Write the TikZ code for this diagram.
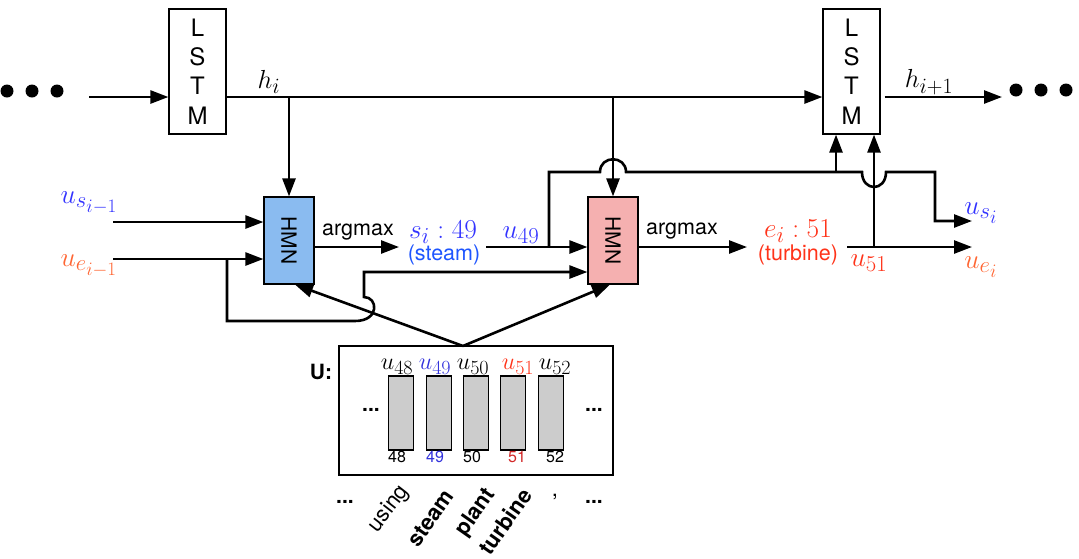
\documentclass[tikz,border=0pt]{standalone}
\usepackage[no-math]{fontspec}
\newfontfamily\hv{TeX Gyre Heros}
\usetikzlibrary{arrows.meta}
\definecolor{sblue}{RGB}{51,51,255}
\definecolor{stblue}{RGB}{30,85,255}
\definecolor{eorange}{RGB}{255,102,51}
\definecolor{ered}{RGB}{255,51,25}
\definecolor{hmnblue}{RGB}{138,187,240}
\definecolor{hmnpink}{RGB}{245,176,176}
\definecolor{bargray}{RGB}{204,204,204}
\definecolor{nblue}{RGB}{50,50,220}
\definecolor{nred}{RGB}{210,40,40}
\begin{document}
\begin{tikzpicture}[x=1pt,y=-1pt,
  arr/.style={line width=2.6pt,-{Triangle[length=18pt,width=13pt]}},
  boxst/.style={draw,line width=1.2pt,inner sep=0pt},
  lstmbox/.style={boxst,minimum width=57pt,minimum height=125pt,align=center,font=\hv\fontsize{24}{29.3}\selectfont},
  hmnbox/.style={boxst,minimum width=50pt,minimum height=87pt},
  hmntext/.style={rotate=-90,inner sep=0pt,font=\hv\fontsize{21}{25}\selectfont},
  dotst/.style={circle,fill,minimum size=13pt,inner sep=0pt},
  mathbig/.style={inner sep=0pt,scale=1.1,font=\fontsize{24.88}{30}\selectfont},
  mathmid/.style={inner sep=0pt,scale=1.05,font=\fontsize{24.88}{30}\selectfont},
  mathsm/.style={inner sep=0pt,scale=0.97,font=\fontsize{24.88}{30}\selectfont},
  sflbl/.style={inner sep=0pt,font=\hv\fontsize{21.5}{25}\selectfont},
  numlbl/.style={inner sep=0pt,font=\hv\fontsize{16}{19}\selectfont},
  wordlbl/.style={inner sep=0pt,font=\hv\fontsize{22}{26}\selectfont},
  bwordlbl/.style={inner sep=0pt,font=\hv\bfseries\fontsize{22}{26}\selectfont},
  bdots/.style={inner sep=0pt,font=\hv\bfseries\fontsize{21}{24}\selectfont},
  barst/.style={draw,line width=1.1pt,fill=bargray,minimum width=25.5pt,minimum height=74pt,inner sep=0pt}]
\useasboundingbox (0,0) rectangle (1079,558);

% left and right dots
\node[dotst] (dl1) at (7,91) {};
\node[dotst] (dl2) at (32,91) {};
\node[dotst] (dl3) at (57,91) {};
\node[dotst] (dr1) at (1016,90) {};
\node[dotst] (dr2) at (1041,90) {};
\node[dotst] (dr3) at (1066,90) {};

% LSTM boxes
\node[lstmbox] (lstm1) at (197.5,71.5) {L\\S\\T\\M};
\node[lstmbox] (lstm2) at (851.5,71.5) {L\\S\\T\\M};

% HMN boxes
\node[hmnbox,fill=hmnblue] (hmn1) at (289,240.5) {};
\node[hmntext] (hmn1t) at (hmn1.center) {HMN};
\node[hmnbox,fill=hmnpink] (hmn2) at (613,240.5) {};
\node[hmntext] (hmn2t) at (hmn2.center) {HMN};

% coordinates
\coordinate (inL) at (89,97);
\coordinate (hy) at (0,97);
\coordinate (outR) at (1002,97);
\coordinate (usm) at (113,222);
\coordinate (uem) at (113,259);
\coordinate (ay) at (0,247);
\coordinate (ly) at (0,272);
\coordinate (siL) at (399,247);
\coordinate (u49s) at (486,247);
\coordinate (lb) at (227,259);
\coordinate (b49) at (549,247);
\coordinate (usi) at (972,221);
\coordinate (j1) at (836,172);
\coordinate (eiL) at (747,247);
\coordinate (u51s) at (847,247);
\coordinate (ueo) at (972,247);
\coordinate (j2) at (874,247);
\coordinate (apex) at (463,346);

% LSTM chain
\draw[arr] (inL) -- (inL -| lstm1.west);
\draw[arr] (lstm1.east |- hy) -- (lstm2.west |- hy);
\draw[arr] ([xshift=4pt]lstm2.east |- hy) -- (outR);
\node[mathmid] (hi) at (269,82) {$h_i$};
\node[mathmid] (hip) at (929,82) {$h_{i+1}$};

% h_i drops
\draw[arr] (hmn1.north |- hy) -- (hmn1.north);
\draw[arr] (hmn2.north |- hy) -- (hmn2.north);

% inputs of HMN1
\node[mathbig,text=sblue] (lusm) at (89,203) {$u_{s_{i-1}}$};
\node[mathbig,text=eorange] (luem) at (89,266) {$u_{e_{i-1}}$};
\draw[arr] (usm) -- (usm -| hmn1.west);
\draw[arr] (uem) -- (uem -| hmn1.west);

% HMN1 output
\draw[arr] (hmn1.east |- ay) -- (siL);
\node[sflbl] (am1) at (358,232) {argmax};
\node[mathbig,text=sblue] (si) at (443,232) {$s_i:49$};
\node[sflbl,text=stblue] (steam) at (444,255) {(steam)};

% u49 into HMN2
\draw[arr] (u49s) -- (u49s -| hmn2.west);
\node[mathbig,text=sblue] (u49) at (521,235) {$u_{49}$};

% loop from u_{e_{i-1}} to HMN2 (jumps the diagonal)
\draw[arr] (lb) -- (227,321) -- (355,321) .. controls (380,321) and (378,297) .. (364,297) -- (364,272) -- (hmn2.west |- ly);

% upper route from u49 to u_{s_i}
\draw[arr] (b49) -- (549,172) -- (600,172) .. controls (600,155) and (626,155) .. (626,172) -- (862,172) .. controls (862,192) and (886,192) .. (886,172) -- (935,172) -- (935,221) -- (usi);
\draw[arr] (j1) -- (j1 |- lstm2.south);

% HMN2 output
\draw[arr] (hmn2.east |- ay) -- (eiL);
\node[sflbl] (am2) at (682,231) {argmax};
\node[mathbig,text=ered] (ei) at (798,231) {$e_i:51$};
\node[sflbl,text=ered] (turb) at (798,255) {(turbine)};
\draw[arr] (u51s) -- (ueo);
\draw[arr] (j2) -- (j2 |- lstm2.south);
\node[mathbig,text=ered] (u51) at (869,263) {$u_{51}$};
\node[mathbig,text=sblue] (lusi) at (981,213) {$u_{s_i}$};
\node[mathbig,text=eorange] (luei) at (981,267) {$u_{e_i}$};

% U box
\node[boxst,minimum width=274pt,minimum height=129pt] (ubox) at (476,410.5) {};
\node[inner sep=0pt,font=\hv\bfseries\fontsize{21}{25}\selectfont] (ulab) at (321,372) {U:};
\node[barst] (b48) at (401,413) {};
\node[barst] (b49b) at (439,413) {};
\node[barst] (b50) at (476,413) {};
\node[barst] (b51) at (513,413) {};
\node[barst] (b52) at (551,413) {};
\node[mathsm] (l48) at (397,367) {$u_{48}$};
\node[mathsm,text=nblue] (l49) at (435,367) {$u_{49}$};
\node[mathsm] (l50) at (473,367) {$u_{50}$};
\node[mathsm,text=ered] (l51) at (518,367) {$u_{51}$};
\node[mathsm] (l52) at (555,367) {$u_{52}$};
\node[numlbl] (n48) at (397,457) {48};
\node[numlbl,text=nblue] (n49) at (435,457) {49};
\node[numlbl] (n50) at (472,457) {50};
\node[numlbl,text=nred] (n51) at (517,457) {51};
\node[numlbl] (n52) at (555,457) {52};
\node[bdots] (idl) at (371,410) {...};
\node[bdots] (idr) at (594,410) {...};

% diagonals from U to the HMNs
\draw[arr] (apex) -- ([xshift=6pt]hmn1.south);
\draw[arr] (apex) -- ([xshift=-3pt]hmn2.south);

% words
\node[bdots] (wdl) at (345,502) {...};
\node[wordlbl,rotate=52] (w1) at (389,509) {using};
\node[bwordlbl,rotate=55] (w2) at (431,518) {steam};
\node[bwordlbl,rotate=55] (w3) at (476,513) {plant};
\node[bwordlbl,rotate=55] (w4) at (505,521) {turbine};
\node[wordlbl] (w5) at (555,497) {,};
\node[bdots] (wdr) at (594,502) {...};
\end{tikzpicture}
\end{document}
